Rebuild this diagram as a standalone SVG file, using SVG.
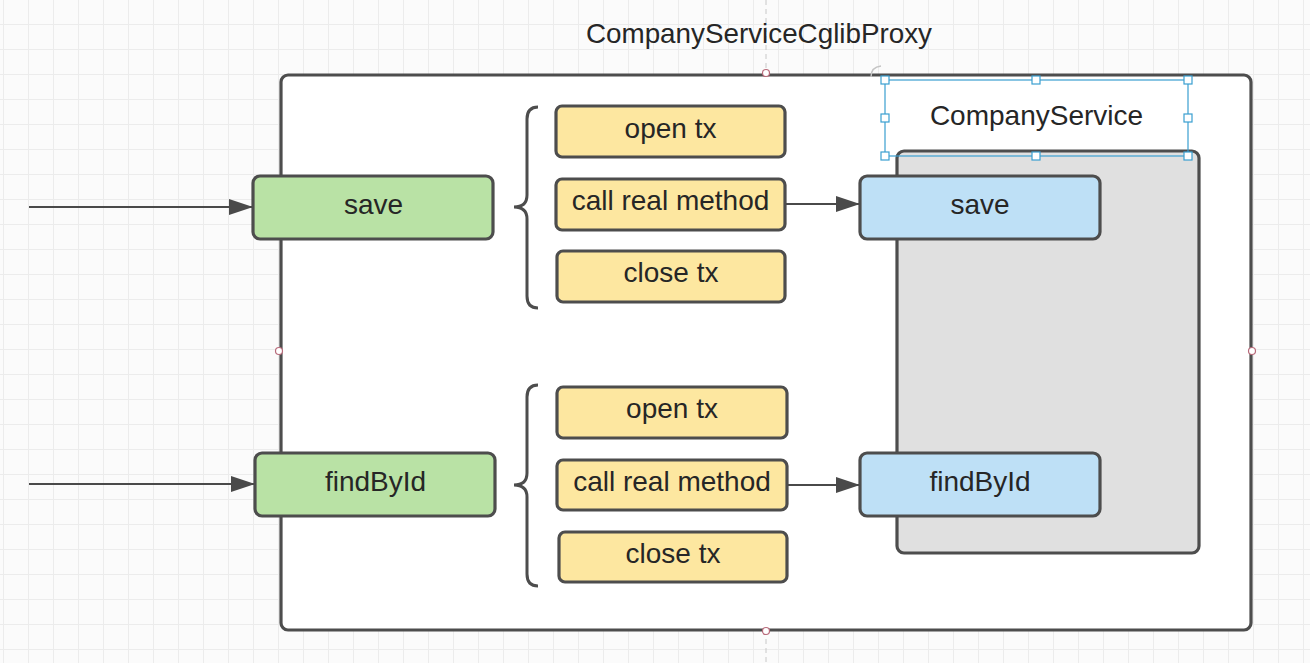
<svg xmlns="http://www.w3.org/2000/svg" width="1310" height="663" viewBox="0 0 1310 663">
  <defs>
    <pattern id="grid" x="3" y="-1" width="25" height="25" patternUnits="userSpaceOnUse">
      <path d="M0.5,0 V25 M0,0.5 H25" fill="none" stroke="#ececec" stroke-width="1"/>
    </pattern>
    <marker id="arrow" markerUnits="userSpaceOnUse" markerWidth="24" markerHeight="16" refX="23" refY="8" orient="auto">
      <path d="M0,0 L24,8 L0,16 Z" fill="#4a4a4a"/>
    </marker>
    <style>
      .box { stroke: #4d4d4d; stroke-width: 3.2; }
      .green { fill: #b9e2a5; }
      .yellow { fill: #fde7a0; }
      .blue { fill: #bee0f6; }
      .gray { fill: #e0e0e0; }
      .lbl { font-family: "Liberation Sans", Arial, sans-serif; font-size: 28px; text-anchor: middle; fill: #262626; }
      .conn { stroke: #4a4a4a; stroke-width: 2; fill: none; }
      .brace { stroke: #4d4d4d; stroke-width: 3; fill: none; }
      .pt { fill: #ffffff; stroke: #b86a7a; stroke-width: 1.2; }
      .handle { fill: #ffffff; stroke: #3a9fd0; stroke-width: 1.2; }
    </style>
  </defs>

  <rect x="0" y="0" width="1310" height="663" fill="#fbfbfb"/>
  <rect x="0" y="0" width="1310" height="663" fill="url(#grid)"/>
  <line x1="766" y1="0" x2="766" y2="663" stroke="#c8c8c8" stroke-width="1" stroke-dasharray="5,4"/>

  <text class="lbl" x="759" y="42.5" style="font-size:27.8px">CompanyServiceCglibProxy</text>

  <g id="proxy">
    <rect class="box" x="281" y="75" width="970" height="555" rx="7" fill="#ffffff"/>
    <circle class="pt" cx="766" cy="73" r="3.5"/>
    <circle class="pt" cx="279" cy="351" r="3.5"/>
    <circle class="pt" cx="1252" cy="351" r="3.5"/>
    <circle class="pt" cx="766" cy="631" r="3.5"/>
  </g>

  <g id="companyService">
    <rect class="box gray" x="897" y="151" width="302" height="402" rx="7"/>
  </g>

  <g id="companyServiceLabel">
    <text class="lbl" x="1036.5" y="124.5">CompanyService</text>
    <rect x="885" y="80" width="303" height="76" fill="none" stroke="#3a9fd0" stroke-width="1.2"/>
    <rect class="handle" x="881" y="76" width="8" height="8"/>
    <rect class="handle" x="1032" y="76" width="8" height="8"/>
    <rect class="handle" x="1184" y="76" width="8" height="8"/>
    <rect class="handle" x="881" y="114" width="8" height="8"/>
    <rect class="handle" x="1184" y="114" width="8" height="8"/>
    <rect class="handle" x="881" y="152" width="8" height="8"/>
    <rect class="handle" x="1032" y="152" width="8" height="8"/>
    <rect class="handle" x="1184" y="152" width="8" height="8"/>
    <path d="M871,77 Q871,67 881,66" fill="none" stroke="#c4c4c4" stroke-width="1.5"/>
  </g>

  <g id="connectors">
    <line class="conn" x1="29" y1="207" x2="252" y2="207" marker-end="url(#arrow)"/>
    <line class="conn" x1="29" y1="484" x2="254" y2="484" marker-end="url(#arrow)"/>
    <line class="conn" x1="786" y1="204" x2="859" y2="204" marker-end="url(#arrow)"/>
    <line class="conn" x1="788" y1="485" x2="859" y2="485" marker-end="url(#arrow)"/>
    <path class="brace" d="M538,107 Q527,107 527,119 L527,195 Q527,207 514,207 Q527,207 527,219 L527,296 Q527,308 538,308"/>
    <path class="brace" d="M538,385 Q527,385 527,397 L527,473 Q527,485 514,485 Q527,485 527,497 L527,574 Q527,586 538,586"/>
  </g>

  <g id="proxySave">
    <rect class="box green" x="253" y="176" width="240" height="63" rx="7"/>
    <text class="lbl" x="373.5" y="214">save</text>
  </g>
  <g id="proxyFindById">
    <rect class="box green" x="255" y="453" width="240" height="63" rx="7"/>
    <text class="lbl" x="375.5" y="491">findById</text>
  </g>

  <g id="openTx1">
    <rect class="box yellow" x="556" y="106" width="229" height="51" rx="6"/>
    <text class="lbl" x="670.5" y="138">open tx</text>
  </g>
  <g id="callReal1">
    <rect class="box yellow" x="556" y="179" width="229" height="51" rx="6"/>
    <text class="lbl" x="670.5" y="209.5">call real method</text>
  </g>
  <g id="closeTx1">
    <rect class="box yellow" x="557" y="251" width="228" height="51" rx="6"/>
    <text class="lbl" x="671" y="282">close tx</text>
  </g>

  <g id="openTx2">
    <rect class="box yellow" x="557" y="387" width="230" height="51" rx="6"/>
    <text class="lbl" x="672" y="418">open tx</text>
  </g>
  <g id="callReal2">
    <rect class="box yellow" x="557" y="460" width="230" height="50" rx="6"/>
    <text class="lbl" x="672" y="490.5">call real method</text>
  </g>
  <g id="closeTx2">
    <rect class="box yellow" x="559" y="532" width="228" height="50" rx="6"/>
    <text class="lbl" x="673" y="563">close tx</text>
  </g>

  <g id="realSave">
    <rect class="box blue" x="860" y="176" width="240" height="63" rx="7"/>
    <text class="lbl" x="980" y="214">save</text>
  </g>
  <g id="realFindById">
    <rect class="box blue" x="860" y="453" width="240" height="63" rx="7"/>
    <text class="lbl" x="980" y="491">findById</text>
  </g>
</svg>
